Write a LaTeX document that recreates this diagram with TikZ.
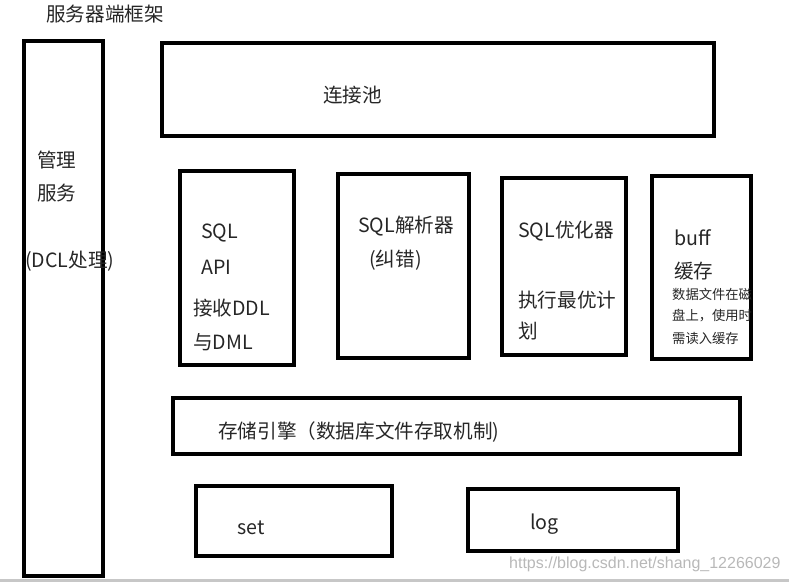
\documentclass[tikz,border=0pt]{standalone}
\usepackage{fontspec}
\setmainfont{Noto Sans CJK SC}
\newfontfamily\urlfont{Liberation Sans}
\usetikzlibrary{positioning}

\begin{document}
\begin{tikzpicture}[x=1pt,y=-1pt,
  every node/.style={font=\fontsize{19.6}{22}\selectfont, inner sep=0pt, anchor=west, text=black!85},
  box/.style={draw=black, line width=3.6pt, anchor=north west, inner sep=0pt},
  small/.style={font=\fontsize{13.3}{15}\selectfont}]
\useasboundingbox (0,0) rectangle (789,582);
\fill[black!22] (0,579) rectangle (789,582);
% frames
\node[box, minimum width=79pt, minimum height=535pt] (mgmt) at (22,39) {};
\node[box, minimum width=552pt, minimum height=93pt] (pool) at (160,41) {};
\node[box, minimum width=114pt, minimum height=194pt] (api) at (178,169) {};
\node[box, minimum width=131pt, minimum height=184pt] (parser) at (336,172) {};
\node[box, minimum width=124pt, minimum height=177pt] (optim) at (500,176) {};
\node[box, minimum width=99pt, minimum height=183pt] (buff) at (650,174) {};
\node[box, minimum width=567pt, minimum height=56pt] (engine) at (171,396) {};
\node[box, minimum width=196pt, minimum height=70pt] (setbox) at (194,484) {};
\node[box, minimum width=210pt, minimum height=62pt] (logbox) at (466,487) {};
% labels
\node (title) at (46,14) {服务器端框架};
\node (mgmtA) at (37,160) {管理};
\node (mgmtB) at (37,193) {服务};
\node (mgmtC) at (25,261) {(DCL处理)};
\node (poolT) at (323,95) {连接池};
\node (apiA) at (201,233) {SQL};
\node (apiB) at (201,267) {API};
\node (apiC) at (193,308) {接收DDL};
\node (apiD) at (193,342) {与DML};
\node (parserA) at (358,226) {SQL解析器};
\node (parserB) at (369,260) {(纠错)};
\node (optimA) at (518,231) {SQL优化器};
\node (optimB) at (518,300) {执行最优计};
\node (optimC) at (518,331) {划};
\node (buffA) at (674,238) {buff};
\node (buffB) at (674,271) {缓存};
\node[small] (buffC) at (672,294) {数据文件在磁};
\node[small] (buffD) at (672,316) {盘上，使用时};
\node[small] (buffE) at (672,338) {需读入缓存};
\node (engineT) at (218,432) {存储引擎（数据库文件存取机制)};
\node (setT) at (237,528) {set};
\node (logT) at (530,524) {log};
\node[font=\urlfont\fontsize{16}{18}\selectfont, text=black!28] (mark) at (509,564) {https://blog.csdn.net/shang\_12266029};
\end{tikzpicture}
\end{document}
